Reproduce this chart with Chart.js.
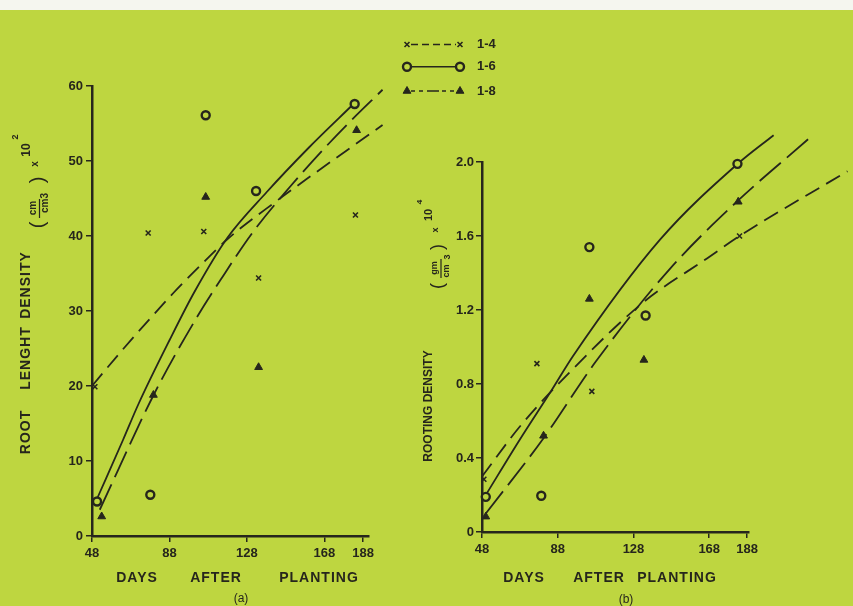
<!DOCTYPE html>
<html>
<head>
<meta charset="utf-8">
<title>Root length density and rooting density</title>
<script src="https://cdn.jsdelivr.net/npm/chart.js@4.4.1/dist/chart.umd.min.js"></script>
<style>
  html, body { margin: 0; padding: 0; }
  body { width: 853px; height: 606px; background: #bed640; position: relative; overflow: hidden; }
  #strip { position: absolute; left: 0; top: 0; width: 853px; height: 10px; background: #f5f6ef; }
  canvas { position: absolute; left: 0; top: 0; }
</style>
</head>
<body>
<div id="strip"></div>
<canvas id="chart-a" width="853" height="606"></canvas>
<canvas id="chart-b" width="853" height="606"></canvas>
<script>
const seriesNames = ['1-4', '1-6', '1-8'];
const dayTicks = [48, 88, 128, 168, 188];
const rldTicks = [0, 10, 20, 30, 40, 50, 60];
const rdTicks = [0, 0.4, 0.8, 1.2, 1.6, 2.0];
const rdTickLabels = ['0', '0.4', '0.8', '1.2', '1.6', '2.0'];

// (a) root length density, measured points
const rldDays14 = [49.5, 77, 105.7, 134, 184];
const rld14 = [19.9, 40.4, 40.6, 34.4, 42.8];
const rldDays16 = [50.6, 78.1, 106.7, 132.7, 183.6];
const rld16 = [4.6, 5.5, 56.1, 46.0, 57.6];
const rldDays18 = [53, 79.7, 106.7, 134, 184.6];
const rld18 = [2.6, 18.8, 45.2, 22.5, 54.1];

// (a) fitted curves
const rldFitDays14 = [48, 63, 78, 90, 106, 118, 144, 161, 198];
const rldFit14 = [20, 24.6, 29, 32.4, 36.6, 39.6, 44.8, 48.0, 54.8];
const rldFitDays16 = [51, 64, 72, 88, 101, 118, 138, 160, 183];
const rldFit16 = [5.2, 12.8, 17.6, 26.1, 32.6, 39.8, 45.8, 51.8, 57.6];
const rldFitDays18 = [52, 80, 102, 115, 131, 150, 168, 181, 198];
const rldFit18 = [3.5, 18.9, 29.1, 34.4, 40.5, 46.5, 51.7, 55.2, 59.5];

// (b) rooting density, measured points
const rdDays14 = [49, 77, 106, 184];
const rd14 = [0.285, 0.91, 0.76, 1.6];
const rdDays16 = [50, 79.3, 104.7, 134.4, 182.9];
const rd16 = [0.19, 0.196, 1.54, 1.17, 1.99];
const rdDays18 = [50, 80.5, 104.7, 133.5, 183.3];
const rd18 = [0.083, 0.52, 1.26, 0.93, 1.785];

// (b) fitted curves
const rdFitDays14 = [48, 68, 94, 133, 167, 184, 241];
const rdFit14 = [0.3, 0.57, 0.86, 1.24, 1.48, 1.6, 1.95];
const rdFitDays16 = [50, 68, 85, 96, 142, 183, 202];
const rdFit16 = [0.2, 0.5, 0.77, 0.95, 1.58, 1.99, 2.145];
const rdFitDays18 = [50, 80, 108, 147, 182, 221];
const rdFit18 = [0.1, 0.5, 0.92, 1.42, 1.78, 2.13];

const ink = '#26261c';
const paper = '#bed640';
const tickFont = { family: 'Liberation Sans', size: 13, weight: 'bold' };

const markers = [
    { pointStyle: 'crossRot', radius: 3.5, borderWidth: 1.6, fill: ink, curveDash: [16, 8], legendDash: [7, 4] },
    { pointStyle: 'circle', radius: 4, borderWidth: 2.4, fill: paper, curveDash: [], legendDash: [] },
    { pointStyle: 'triangle', radius: 4.5, borderWidth: 1, fill: ink, curveDash: [28, 8], legendDash: [4, 4, 4, 4, 12, 3] }
];

function pts(xs, ys) {
    return xs.map((x, i) => ({ x: x, y: ys[i] }));
}

function points(xs, ys, m) {
    return {
        data: pts(xs, ys),
        showLine: false,
        pointStyle: m.pointStyle,
        pointRadius: m.radius,
        pointBorderWidth: m.borderWidth,
        pointBackgroundColor: m.fill,
        pointBorderColor: ink,
        clip: false
    };
}

function curve(xs, ys, m) {
    return {
        data: pts(xs, ys),
        showLine: true,
        pointRadius: 0,
        borderColor: ink,
        borderWidth: 1.8,
        borderDash: m.curveDash,
        cubicInterpolationMode: 'monotone',
        tension: 0.4,
        capBezierPoints: false,
        clip: false
    };
}

function xAxis(max) {
    return {
        type: 'linear',
        min: 48,
        max: max,
        afterBuildTicks: s => { s.ticks = dayTicks.map(v => ({ value: v })); },
        afterFit: s => { s.height = 40; },
        grid: { drawOnChartArea: false, drawTicks: true, tickLength: 6, color: ink, lineWidth: 1.5 },
        border: { display: true, color: ink, width: 2.5 },
        ticks: { color: ink, font: tickFont, padding: 4, maxRotation: 0, autoSkip: false, callback: v => String(v) }
    };
}

function yAxis(values, labels, max, pad) {
    return {
        type: 'linear',
        min: 0,
        max: max,
        afterBuildTicks: s => { s.ticks = values.map(v => ({ value: v })); },
        afterFit: s => { s.width = 40; },
        grid: { drawOnChartArea: false, drawTicks: true, tickLength: 6, color: ink, lineWidth: 1.5 },
        border: { display: true, color: ink, width: 2.5 },
        ticks: { color: ink, font: tickFont, padding: pad, autoSkip: false, callback: (v, i) => labels[i] }
    };
}

function vtext(ctx, str, x, y, font, spacing) {
    ctx.save();
    ctx.translate(x, y);
    ctx.rotate(-Math.PI / 2);
    ctx.font = font;
    ctx.letterSpacing = spacing || '0px';
    ctx.textAlign = 'center';
    ctx.textBaseline = 'middle';
    ctx.fillText(str, 0, 0);
    ctx.restore();
}

function htext(ctx, str, x, y, font, spacing, align) {
    ctx.save();
    ctx.font = font;
    ctx.letterSpacing = spacing || '0px';
    ctx.textAlign = align || 'center';
    ctx.textBaseline = 'middle';
    ctx.fillText(str, x, y);
    ctx.restore();
}

function vbar(ctx, x, y1, y2) {
    ctx.save();
    ctx.strokeStyle = ink;
    ctx.lineWidth = 1.2;
    ctx.beginPath();
    ctx.moveTo(x, y1);
    ctx.lineTo(x, y2);
    ctx.stroke();
    ctx.restore();
}

const titlesA = {
    id: 'titlesA',
    afterDraw(chart) {
        const ctx = chart.ctx;
        ctx.fillStyle = ink;
        const f = 'bold 14px "Liberation Sans"';
        vtext(ctx, 'ROOT', 26, 432, f, '1px');
        vtext(ctx, 'LENGHT', 26, 358, f, '1px');
        vtext(ctx, 'DENSITY', 26, 285, f, '1px');
        vtext(ctx, '(', 38, 225, '20px "Liberation Sans"');
        vtext(ctx, 'cm', 33, 208, 'bold 10px "Liberation Sans"');
        vbar(ctx, 39.5, 199, 218);
        vtext(ctx, 'cm3', 45, 203, 'bold 10px "Liberation Sans"');
        vtext(ctx, ')', 38, 180, '20px "Liberation Sans"');
        vtext(ctx, 'x', 35, 164, 'bold 10px "Liberation Sans"');
        vtext(ctx, '10', 27, 150, 'bold 12px "Liberation Sans"');
        vtext(ctx, '2', 16, 137, 'bold 9px "Liberation Sans"');

        htext(ctx, 'DAYS', 137, 578, f, '1px');
        htext(ctx, 'AFTER', 216, 578, f, '1px');
        htext(ctx, 'PLANTING', 319, 578, f, '1px');
        htext(ctx, '(a)', 241, 599, '12px "Liberation Sans"');

        // legend shared by both panels
        const h = Chart.helpers;
        const rows = [44.5, 66.7, 91];
        markers.forEach((m, i) => {
            const y = rows[i];
            ctx.save();
            ctx.strokeStyle = ink;
            ctx.lineWidth = 1.6;
            ctx.setLineDash(m.legendDash);
            ctx.beginPath();
            ctx.moveTo(411, y);
            ctx.lineTo(456, y);
            ctx.stroke();
            ctx.setLineDash([]);
            ctx.fillStyle = m.fill;
            ctx.lineWidth = m.borderWidth;
            const opts = { pointStyle: m.pointStyle, radius: m.radius, borderWidth: m.borderWidth, rotation: 0 };
            h.drawPoint(ctx, opts, 407, y);
            h.drawPoint(ctx, opts, 460, y);
            ctx.restore();
            ctx.fillStyle = ink;
            htext(ctx, seriesNames[i], 477, y, 'bold 13px "Liberation Sans"', '0px', 'left');
        });
    }
};

const titlesB = {
    id: 'titlesB',
    afterDraw(chart) {
        const ctx = chart.ctx;
        ctx.fillStyle = ink;
        const f = 'bold 14px "Liberation Sans"';
        vtext(ctx, 'ROOTING DENSITY', 429, 406, 'bold 12px "Liberation Sans"');
        vtext(ctx, '(', 438, 286, '18px "Liberation Sans"');
        vtext(ctx, 'gm', 435, 268, 'bold 9px "Liberation Sans"');
        vbar(ctx, 441, 259, 278);
        vtext(ctx, 'cm', 447, 271, 'bold 9px "Liberation Sans"');
        vtext(ctx, '3', 448, 257, 'bold 9px "Liberation Sans"');
        vtext(ctx, ')', 438, 247, '18px "Liberation Sans"');
        vtext(ctx, 'x', 436, 230, 'bold 9px "Liberation Sans"');
        vtext(ctx, '10', 429, 215, 'bold 11px "Liberation Sans"');
        vtext(ctx, '4', 420, 202, 'bold 8px "Liberation Sans"');

        htext(ctx, 'DAYS', 524, 578, f, '1px');
        htext(ctx, 'AFTER', 599, 578, f, '1px');
        htext(ctx, 'PLANTING', 677, 578, f, '1px');
        htext(ctx, '(b)', 626, 600, '12px "Liberation Sans"');
    }
};

new Chart(document.getElementById('chart-a').getContext('2d'), {
    type: 'scatter',
    data: {
        datasets: [
            points(rldDays14, rld14, markers[0]),
            points(rldDays16, rld16, markers[1]),
            points(rldDays18, rld18, markers[2]),
            curve(rldFitDays14, rldFit14, markers[0]),
            curve(rldFitDays16, rldFit16, markers[1]),
            curve(rldFitDays18, rldFit18, markers[2])
        ]
    },
    options: {
        responsive: false,
        animation: false,
        layout: { padding: { left: 52, right: 484, top: 86, bottom: 30 } },
        plugins: { legend: { display: false }, tooltip: { enabled: false } },
        scales: { x: xAxis(191), y: yAxis(rldTicks, rldTicks.map(String), 60, 3) }
    },
    plugins: [titlesA]
});

new Chart(document.getElementById('chart-b').getContext('2d'), {
    type: 'scatter',
    data: {
        datasets: [
            points(rdDays14, rd14, markers[0]),
            points(rdDays16, rd16, markers[1]),
            points(rdDays18, rd18, markers[2]),
            curve(rdFitDays14, rdFit14, markers[0]),
            curve(rdFitDays16, rdFit16, markers[1]),
            curve(rdFitDays18, rdFit18, markers[2])
        ]
    },
    options: {
        responsive: false,
        animation: false,
        layout: { padding: { left: 442, right: 104, top: 162, bottom: 34 } },
        plugins: { legend: { display: false }, tooltip: { enabled: false } },
        scales: { x: xAxis(189), y: yAxis(rdTicks, rdTickLabels, 2.0, 2) }
    },
    plugins: [titlesB]
});
</script>
</body>
</html>
